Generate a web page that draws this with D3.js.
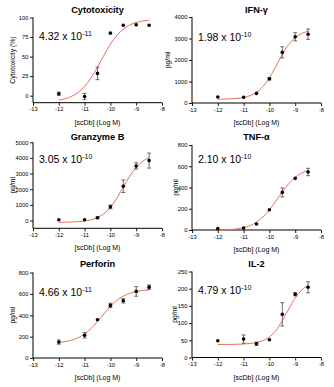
<!DOCTYPE html>
<html><head><meta charset="utf-8">
<script src="https://cdn.jsdelivr.net/npm/d3@7"></script>
<style>html,body{margin:0;padding:0;background:#fff}svg{display:block}</style>
</head><body>
<svg id="c" width="334" height="387"></svg>
<script>
// ---- data ----
const doseLog = [-12, -11, -10.5, -10, -9.5, -9, -8.5];
const curveLog = [-12, -11.75, -11.5, -11.25, -11, -10.75, -10.5, -10.25, -10, -9.75, -9.5, -9.25, -9, -8.75, -8.5];
const xTicks = [-13, -12, -11, -10, -9, -8];

const titles = ["Cytotoxicity", "IFN-γ", "Granzyme B", "TNF-α", "Perforin", "IL-2"];
const yLabels = ["Cytotoxicity (%)", "pg/ml", "pg/ml", "pg/ml", "pg/ml", "pg/ml"];
const ec50Mant = ["4.32", "1.98", "3.05", "2.10", "4.66", "4.79"];
const ec50Exp = ["-11", "-10", "-10", "-10", "-11", "-10"];

const cytoMean = [2.5, -1, 28.5, 80, 90, 90.6, 90];
const cytoErr  = [2, 4, 8, 0, 0, 0, 0];
const cytoCurve = [-5.6, -3.9, -0.8, 4.1, 11.8, 22.7, 36.5, 51.7, 65.8, 77.1, 85.1, 90.4, 93.6, 95.5, 96.6];
const cytoTicks = [0, 25, 50, 75, 100];

const ifnMean = [277, 262, 446, 1123, 2354, 3077, 3200];
const ifnErr  = [0, 0, 0, 50, 260, 190, 240];
const ifnCurve = [176, 181, 193, 215, 259, 342, 497, 763, 1173, 1703, 2259, 2721, 3040, 3230, 3336];
const ifnTicks = [0, 1000, 2000, 3000, 4000];

const gzbMean = [43, 43, 170, 872, 2191, 3489, 3830];
const gzbErr  = [0, 0, 50, 120, 400, 200, 480];
const gzbCurve = [-114, -108, -97, -76, -35, 42, 184, 434, 840, 1427, 2137, 2838, 3402, 3786, 4019];
const gzbTicks = [0, 1000, 2000, 3000, 4000, 5000];

const tnfMean = [12.5, 19, 56, 191, 354, 486, 546];
const tnfErr  = [0, 0, 0, 0, 42, 0, 35];
const tnfCurve = [-2, 0, 4, 11, 23, 42, 74, 123, 190, 272, 359, 436, 495, 536, 562];
const tnfTicks = [0, 200, 400, 600, 800];

const prfMean = [149, 212, 358, 492, 535, 623, 663];
const prfErr  = [20, 25, 0, 20, 20, 45, 20];
const prfCurve = [146, 154, 167, 190, 225, 276, 341, 413, 483, 539, 579, 606, 622, 632, 638];
const prfTicks = [0, 200, 400, 600, 800];

const il2Mean = [48.6, 53.5, 40, 51.5, 125.5, 184, 204];
const il2Err  = [0, 12, 5, 0, 34, 5, 16];
const il2Curve = [38, 38, 38, 38.5, 39, 41, 43, 49, 60, 78, 107, 141, 173, 196, 210];
const il2Ticks = [0, 50, 100, 150, 200, 250];

const yDomains = [[-9, 100], [0, 4000], [-500, 5000], [0, 800], [0, 800], [0, 250]];

// ---- layout (positions / styles) ----
const layout = [
  {x0: 33,  x1: 162, top: 17.5,  bot: 102.7, titleY: 13,    ecY: 40,    ylx: 15},
  {x0: 192, x1: 321, top: 17,    bot: 103,   titleY: 13,    ecY: 40.5,  ylx: 170},
  {x0: 33,  x1: 162, top: 142.3, bot: 228.3, titleY: 140,   ecY: 162.7, ylx: 15},
  {x0: 192, x1: 321, top: 145,   bot: 230,   titleY: 140,   ecY: 162.7, ylx: 178},
  {x0: 33,  x1: 162, top: 272.5, bot: 358,   titleY: 266.5, ecY: 295.7, ylx: 15},
  {x0: 192, x1: 321, top: 271.5, bot: 357.5, titleY: 267,   ecY: 294.3, ylx: 177}
];
const means = [cytoMean, ifnMean, gzbMean, tnfMean, prfMean, il2Mean];
const errs = [cytoErr, ifnErr, gzbErr, tnfErr, prfErr, il2Err];
const curves = [cytoCurve, ifnCurve, gzbCurve, tnfCurve, prfCurve, il2Curve];
const yTickSets = [cytoTicks, ifnTicks, gzbTicks, tnfTicks, prfTicks, il2Ticks];

const FONT = "'Liberation Sans', Arial, Helvetica, sans-serif";
const CURVE_COLOR = "#e8715b";
const svg = d3.select("#c");

layout.forEach((L, i) => {
  const x = d3.scaleLinear().domain([-13, -8]).range([L.x0, L.x1]);
  const y = d3.scaleLinear().domain(yDomains[i]).range([L.bot, L.top]);
  const g = svg.append("g");

  // axes
  const xa = g.append("g").attr("transform", `translate(0,${L.bot})`)
    .call(d3.axisBottom(x).tickValues(xTicks).tickSize(3).tickPadding(1.5).tickFormat(d => String(d)));
  const ya = g.append("g").attr("transform", `translate(${L.x0},0)`)
    .call(d3.axisLeft(y).tickValues(yTickSets[i]).tickSize(3).tickPadding(1.5).tickFormat(d => String(d)));
  [xa, ya].forEach(a => {
    a.select(".domain").attr("stroke", "#000").attr("stroke-width", 1);
    a.selectAll(".tick line").attr("stroke", "#000").attr("stroke-width", 0.9);
    a.selectAll(".tick text").attr("font-family", FONT).attr("font-size", 5.8).attr("fill", "#000");
  });
  // extend y-axis down to x-axis if domain min below 0 (already spans range)
  ya.select(".domain").attr("d", `M0,${L.bot}V${L.top}`);
  xa.select(".domain").attr("d", `M${L.x0},0H${L.x1}`);

  // fitted curve
  const line = d3.line().x((d, k) => x(curveLog[k])).y(d => y(d)).curve(d3.curveMonotoneX);
  g.append("path").attr("d", line(curves[i])).attr("fill", "none")
    .attr("stroke", CURVE_COLOR).attr("stroke-width", 1);

  // error bars
  doseLog.forEach((dx, k) => {
    const e = errs[i][k];
    if (e > 0) {
      const cx = x(dx), y1 = y(means[i][k] + e), y2 = y(means[i][k] - e);
      g.append("line").attr("x1", cx).attr("x2", cx).attr("y1", y1).attr("y2", y2)
        .attr("stroke", "#333").attr("stroke-width", 0.7);
      [y1, y2].forEach(yy => g.append("line").attr("x1", cx - 2).attr("x2", cx + 2)
        .attr("y1", yy).attr("y2", yy).attr("stroke", "#333").attr("stroke-width", 0.7));
    }
  });
  // points
  g.selectAll("circle.pt").data(means[i]).join("circle")
    .attr("cx", (d, k) => x(doseLog[k])).attr("cy", d => y(d)).attr("r", 1.8).attr("fill", "#000");

  // title
  g.append("text").attr("x", (L.x0 + L.x1) / 2).attr("y", L.titleY).attr("text-anchor", "middle")
    .attr("font-family", FONT).attr("font-weight", "bold").attr("font-size", 9.2).text(titles[i]);

  // EC50 label
  const t = g.append("text").attr("x", L.x0 + 6).attr("y", L.ecY)
    .attr("font-family", FONT).attr("font-size", 10.5).attr("fill", "#000");
  t.append("tspan").text(ec50Mant[i] + " x 10");
  t.append("tspan").attr("dy", -4).attr("font-size", 7).text(ec50Exp[i]);

  // axis labels
  g.append("text").attr("x", (L.x0 + L.x1) / 2).attr("y", L.bot + 22).attr("text-anchor", "middle")
    .attr("font-family", FONT).attr("font-size", 7).text("[scDb] (Log M)");
  g.append("text").attr("transform", `translate(${L.ylx},${(L.top + L.bot) / 2}) rotate(-90)`)
    .attr("text-anchor", "middle").attr("font-family", FONT).attr("font-size", 6.8).text(yLabels[i]);
});
</script>
</body></html>
